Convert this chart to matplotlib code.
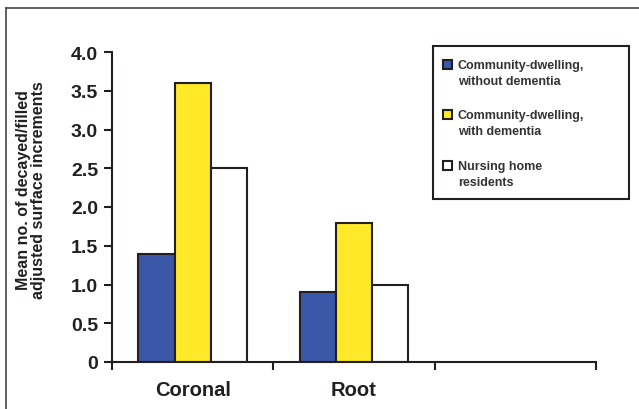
import matplotlib
matplotlib.use("Agg")
import matplotlib.pyplot as plt
from matplotlib.lines import Line2D
from matplotlib.patches import Rectangle
import numpy as np

plt.rcParams['font.family'] = ['Liberation Sans', 'DejaVu Sans']

categories = ["Coronal", "Root", ""]
groups = ["Community-dwelling,\nwithout dementia",
          "Community-dwelling,\nwith dementia",
          "Nursing home\nresidents"]
without_dementia = [1.4, 0.9, np.nan]
with_dementia = [3.6, 1.8, np.nan]
nursing_home = [2.5, 1.0, np.nan]
colors = ["#3A57A8", "#FFE928", "#FFFFFF"]
ink = "#231F20"

W, H = 639, 410
fig = plt.figure(figsize=(W / 100, H / 100), dpi=100)
ax = fig.add_axes([112 / W, 1 - 363 / H, 484 / W, 310 / H])

x = np.arange(len(categories))
w = 0.224
series = [without_dementia, with_dementia, nursing_home]
for i, vals in enumerate(series):
    ax.bar(x + (i - 1) * w, vals, w, color=colors[i], edgecolor=ink,
           linewidth=1.5, label=groups[i])

ax.set_xlim(-0.5, 2.5)
ax.set_ylim(0, 4.0)
ax.set_yticks(np.arange(0, 4.01, 0.5))
ax.set_yticklabels(["0"] + ["%.1f" % v for v in np.arange(0.5, 4.01, 0.5)],
                   fontsize=14, fontweight='bold', color=ink)
ax.set_xticks([-0.5, 0.5, 1.5, 2.5])
ax.set_xticklabels([])
ax.set_xticks(x, minor=True)
ax.set_xticklabels(categories, minor=True, fontsize=14.5, fontweight='bold', color=ink)
ax.tick_params(axis='x', which='minor', length=0, pad=13)
ax.tick_params(axis='x', which='major', length=6, width=1.5, color=ink)
ax.tick_params(axis='y', length=6, width=1.5, color=ink, pad=4)
for s in ['top', 'right']:
    ax.spines[s].set_visible(False)
for s in ['left', 'bottom']:
    ax.spines[s].set_color(ink)
    ax.spines[s].set_linewidth(1.5)

fig.text(31 / W, 1 - 190 / H,
         "Mean no. of decayed/filled\nadjusted surface increments",
         rotation=90, ha='center', va='center', fontsize=11.5,
         fontweight='bold', color=ink, linespacing=0.95)

# legend box, drawn by hand so each swatch sits on the first text line
fig.add_artist(Rectangle((433 / W, 1 - 200 / H), 196 / W, 153 / H,
                         transform=fig.transFigure, facecolor='white',
                         edgecolor=ink, linewidth=1.5))
first_line = [65, 115, 166]
for i, label in enumerate(groups):
    y0 = first_line[i]
    fig.add_artist(Rectangle((443 / W, 1 - (y0 + 4.5) / H), 9 / W, 9 / H,
                             transform=fig.transFigure, facecolor=colors[i],
                             edgecolor=ink, linewidth=1.5))
    fig.text(458 / W, 1 - (y0 + 9) / H, label, ha='left', va='center',
             fontsize=9, fontweight='bold', color="#333333", linespacing=1.5)

# outer border lines (top and left)
fig.add_artist(Line2D([6 / W, 1], [1 - 9 / H, 1 - 9 / H],
                      transform=fig.transFigure, color="#444444", lw=1.2))
fig.add_artist(Line2D([6 / W, 6 / W], [0, 1 - 9 / H],
                      transform=fig.transFigure, color="#444444", lw=1.2))

fig.savefig("out.png", dpi=100)
